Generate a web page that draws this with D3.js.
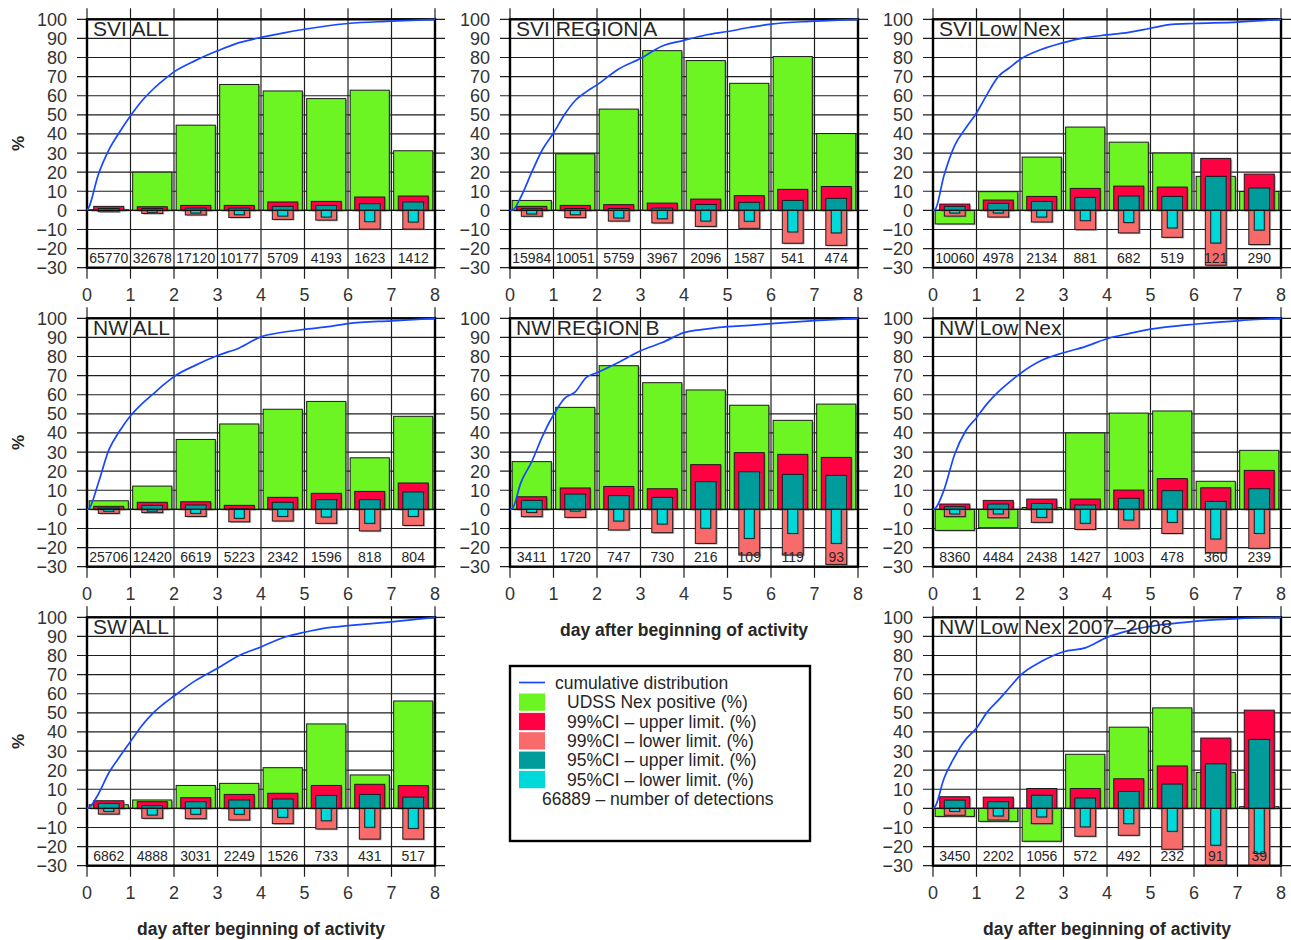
<!DOCTYPE html>
<html lang="en">
<head>
    <meta charset="UTF-8">
    <title>nex-positive</title>
    <style>
        body {
            margin: 0;
            background: #fff;
            font-family: "Liberation Sans", Arial, Helvetica, sans-serif;
        }
        svg text { fill: #262626; }
    </style>
    <script src="https://cdn.jsdelivr.net/npm/d3@7"></script>
</head>
<body>

<script>

    // ---- data ----
    let panelTitles = ["SVI ALL", "SVI REGION A", "SVI Low Nex", "NW ALL", "NW REGION B", "NW Low Nex", "SW ALL", "NW Low Nex 2007\u20132008"];
    let days = [0, 1, 2, 3, 4, 5, 6, 7];
    let xTicks = [0, 1, 2, 3, 4, 5, 6, 7, 8];
    let yTicks = [-30, -20, -10, 0, 10, 20, 30, 40, 50, 60, 70, 80, 90, 100];

    let nexPositive = [
        [0.3, 20, 44.6, 65.9, 62.5, 58.5, 62.9, 31.2],
        [5.2, 29.6, 53, 83.6, 78.4, 66.5, 80.5, 40.2],
        [-7.1, 9.8, 27.9, 43.6, 35.7, 30, 17.8, 9.9],
        [4.5, 12.2, 36.6, 44.7, 52.4, 56.5, 27, 48.7],
        [25, 53.4, 75.2, 66.3, 62.5, 54.5, 46.6, 55.1],
        [-11, -9.6, 1, 40, 50.4, 51.5, 14.7, 30.9],
        [1.9, 4.4, 12, 13.1, 21.3, 44.2, 17.5, 56.2],
        [-4.2, -6.8, -17.2, 28.3, 42.5, 52.6, 18.8, 0.9]
    ];
    let ci99Upper = [
        [2.1, 1.9, 2.6, 2.6, 4.4, 4.7, 7.0, 7.5],
        [2.1, 2.6, 3, 3.8, 5.9, 7.7, 11, 12.5],
        [3.3, 5.4, 7.3, 11.5, 12.7, 12.2, 27.2, 19],
        [1.6, 3.7, 4, 2.1, 6.3, 8.4, 9.4, 13.8],
        [6.6, 11.2, 12, 10.8, 23.4, 29.7, 28.8, 27.2],
        [2.8, 4.7, 5.4, 5.4, 10.1, 16.1, 11.3, 20.4],
        [4, 3.5, 5.6, 7.3, 7.9, 12, 12.6, 11.9],
        [6.1, 5.9, 10.4, 10.4, 15.5, 22.2, 36.8, 51.4]
    ];
    let ci99Lower = [
        [-0.7, -1.6, -2.4, -3.7, -4.7, -5.1, -9.8, -9.8],
        [-3.1, -3.8, -5.6, -6.6, -8.4, -9.4, -17.2, -18.3],
        [-3, -3.5, -6.1, -10.1, -11.8, -14.1, -28.7, -17.9],
        [-2.1, -1.7, -3.7, -6.5, -6.1, -7.3, -11.3, -8.4],
        [-3.8, -4.2, -10.8, -12.2, -17.8, -23.9, -23.9, -28.8],
        [-3.8, -4.4, -6.8, -10.5, -10.1, -12.6, -22.7, -20.4],
        [-3, -5.2, -5.4, -6.1, -8, -10.8, -16.1, -16.1],
        [-3.6, -6.1, -8, -14.6, -14.1, -21.4, -34, -34]
    ];
    let ci95Upper = [
        [1.0, 1.0, 1.2, 1.2, 2.1, 2.6, 3.5, 4.4],
        [0.9, 1, 1, 1.2, 3.1, 4.2, 5.2, 6.3],
        [2.1, 3.7, 4.7, 6.8, 7.5, 7.3, 17.8, 11.7],
        [0.7, 2.1, 2.3, 0.2, 3.7, 5.1, 5.1, 9.1],
        [4.7, 8, 7.2, 6.3, 14.5, 19.7, 18.3, 17.8],
        [1.4, 2.8, 3.1, 2.3, 5.8, 9.8, 4.2, 10.8],
        [2.6, 1.4, 3.5, 4.4, 4.9, 6.8, 7.3, 5.9],
        [4.3, 3.5, 6.9, 5.4, 8.9, 12.7, 23.3, 36.1]
    ];
    let ci95Lower = [
        [-0.2, -1.0, -1.4, -2.3, -3.0, -3.5, -5.9, -6.1],
        [-1.9, -2.3, -4, -4.4, -5.6, -5.7, -11.3, -11.8],
        [-1.4, -1.4, -3.5, -5.4, -6.4, -9.2, -17.1, -10.3],
        [-1, -0.9, -2.1, -4.7, -3.7, -4, -7.3, -3.7],
        [-1.6, -0.9, -6.1, -7.7, -9.9, -15.2, -12.6, -17.8],
        [-2.4, -2.4, -4.2, -7.3, -5.6, -6.8, -15.5, -12.6],
        [-1.6, -3.5, -3.1, -3.1, -4.7, -6.5, -9.9, -10.5],
        [-1.6, -4, -4.5, -9.7, -8, -12, -19.3, -23.6]
    ];
    let detections = [
        [65770, 32678, 17120, 10177, 5709, 4193, 1623, 1412],
        [15984, 10051, 5759, 3967, 2096, 1587, 541, 474],
        [10060, 4978, 2134, 881, 682, 519, 121, 290],
        [25706, 12420, 6619, 5223, 2342, 1596, 818, 804],
        [3411, 1720, 747, 730, 216, 109, 119, 93],
        [8360, 4484, 2438, 1427, 1003, 478, 360, 239],
        [6862, 4888, 3031, 2249, 1526, 733, 431, 517],
        [3450, 2202, 1056, 572, 492, 232, 91, 39]
    ];

    // cumulative distribution, sampled at cumDays
    let cumDays = [0, 0.05, 0.25, 0.5, 0.75, 1, 1.25, 1.5, 1.75, 2, 2.5, 3, 3.5, 4, 4.5, 5, 5.5, 6, 7, 8];
    let cumulative = [
        [0, 2, 18, 31.5, 41, 49.5, 57, 63, 68, 72.5, 78.5, 83.5, 87.8, 90.5, 92.8, 94.8, 96.5, 97.8, 99, 100],
        [0, 0, 7, 20, 32, 40.5, 50, 57.5, 62, 65.7, 74, 79.5, 86, 89, 91.8, 93.6, 95.7, 97.5, 99, 100],
        [0, 0.5, 18, 34, 43, 51, 61, 70, 74.5, 79, 84.3, 87.8, 90.4, 91.8, 93.2, 95.3, 97.3, 97.8, 98.5, 100],
        [0, 0.5, 13, 31, 41, 49, 55, 60, 65, 69.5, 75.5, 80.5, 84.5, 90.3, 92.7, 94.2, 95.5, 97.2, 98.7, 100],
        [0, 0.3, 14, 25, 38.5, 49.5, 58, 61.5, 69, 71.5, 77, 83, 87.3, 92.5, 94.3, 95.6, 96.3, 97.2, 98.8, 100],
        [0, 0.5, 10, 29, 41, 48, 55.5, 61.5, 66.5, 71, 78, 82, 85.2, 89.3, 92, 94.3, 95.8, 96.9, 98.7, 100],
        [0, 0.5, 7, 18.5, 27, 35, 43, 49.5, 54.5, 58.8, 67, 73.3, 80, 84.5, 89.3, 92.2, 94.5, 95.6, 97.6, 100],
        [0, 1, 15.5, 27, 36, 42, 50.5, 56.5, 63, 69.5, 77, 82, 84, 89.5, 93, 95.3, 96.7, 97.9, 99.3, 100]
    ];

    let legendLabels = ["UDSS Nex positive (%)", "99%CI \u2013 upper limit. (%)", "99%CI \u2013 lower limit. (%)",
        "95%CI \u2013 upper limit. (%)", "95%CI \u2013 lower limit. (%)"];

    // ---- layout / style ----
    let width = 1291, height = 940;
    let panelW = 348, panelH = 248.4;
    let colX = [87, 510, 933];
    let rowY = [19.3, 318.3, 617.3];
    let panelSlot = [[0, 0], [0, 1], [0, 2], [1, 0], [1, 1], [1, 2], [2, 0], [2, 2]];

    let colors = {
        nex: "#6cf523",
        up99: "#ff0042",
        lo99: "#f96b6b",
        up95: "#009c9c",
        lo95: "#00d9d9",
        cum: "#1747ff"
    };
    // bar widths in days
    let barW = {nex: 0.9, up99: 0.69, lo99: 0.48, up95: 0.48, lo95: 0.23};

    let svg = d3.select("body").append("svg")
        .attr("width", width)
        .attr("height", height);

    let defs = svg.append("defs");

    let x = d3.scaleLinear().domain([0, 8]).range([0, panelW]);
    let y = d3.scaleLinear().domain([-30, 100]).range([panelH, 0]);

    defs.append("clipPath").attr("id", "plot-clip")
        .append("rect")
        .attr("x", 0).attr("y", 0)
        .attr("width", panelW).attr("height", panelH);

    let fmtTick = function (v) {
        return v < 0 ? "\u2212" + Math.abs(v) : "" + v;
    }

    panelTitles.forEach(function (title, p) {
        let r = panelSlot[p][0], c = panelSlot[p][1];
        let g = svg.append("g").attr("transform", "translate(" + colX[c] + "," + rowY[r] + ")");

        // grid
        g.append("g").selectAll("line")
            .data(xTicks).enter().append("line")
            .attr("x1", d => x(d)).attr("x2", d => x(d))
            .attr("y1", -11).attr("y2", panelH + 11)
            .attr("stroke", "#1e1e1e").attr("stroke-width", 1.2);
        g.append("g").selectAll("line")
            .data(yTicks).enter().append("line")
            .attr("x1", -10).attr("x2", panelW + 10)
            .attr("y1", d => y(d)).attr("y2", d => y(d))
            .attr("stroke", "#1e1e1e").attr("stroke-width", 1.2);

        // bars
        let bars = g.append("g").attr("clip-path", "url(#plot-clip)");
        let series = [
            ["nex", nexPositive[p]],
            ["up99", ci99Upper[p]],
            ["lo99", ci99Lower[p]],
            ["up95", ci95Upper[p]],
            ["lo95", ci95Lower[p]]
        ];
        series.forEach(function (s) {
            let key = s[0], vals = s[1];
            let bx = d => x(d + 0.5 - barW[key] / 2);
            let bw = x(barW[key]) - x(0);
            let by = (d, i) => y(Math.max(0, vals[i]));
            let bh = (d, i) => Math.abs(y(vals[i]) - y(0));
            bars.append("g").selectAll("rect")
                .data(days).enter().append("rect")
                .attr("x", d => bx(d) + 1.5).attr("y", (d, i) => by(d, i) + 1.2)
                .attr("width", bw).attr("height", bh)
                .attr("fill", "#7a7a7a").attr("opacity", 0.6);
            bars.append("g").selectAll("rect")
                .data(days).enter().append("rect")
                .attr("x", bx).attr("y", by)
                .attr("width", bw).attr("height", bh)
                .attr("fill", colors[key])
                .attr("stroke", "#1a1a1a").attr("stroke-width", 1);
        });

        // zero line
        g.append("line")
            .attr("x1", 0).attr("x2", panelW)
            .attr("y1", y(0)).attr("y2", y(0))
            .attr("stroke", "#111").attr("stroke-width", 1.3);

        // frame
        g.append("rect")
            .attr("width", panelW).attr("height", panelH)
            .attr("fill", "none").attr("stroke", "#000").attr("stroke-width", 2.4);

        // number of detections
        g.append("g").selectAll("text")
            .data(days).enter().append("text")
            .attr("x", d => x(d + 0.5)).attr("y", y(-25))
            .attr("dy", "0.36em")
            .attr("text-anchor", "middle")
            .style("font-size", "14px")
            .text((d, i) => detections[p][i]);

        // cumulative distribution
        let line = d3.line()
            .x((d, i) => x(cumDays[i]))
            .y(d => y(d))
            .curve(d3.curveMonotoneX);
        g.append("path")
            .datum(cumulative[p])
            .attr("d", line)
            .attr("fill", "none")
            .attr("stroke", colors.cum)
            .attr("stroke-width", 1.7);

        // title
        g.append("text")
            .attr("x", 6).attr("y", 16.5)
            .style("font-size", "21px")
            .text(title);

        // tick labels
        g.append("g").selectAll("text")
            .data(yTicks).enter().append("text")
            .attr("x", -20).attr("y", d => y(d))
            .attr("dy", "0.36em")
            .attr("text-anchor", "end")
            .style("font-size", "18px")
            .style("fill", "#333")
            .text(fmtTick);
        g.append("g").selectAll("text")
            .data(xTicks).enter().append("text")
            .attr("x", d => x(d)).attr("y", panelH + 27)
            .attr("dy", "0.36em")
            .attr("text-anchor", "middle")
            .style("font-size", "18px")
            .style("fill", "#333")
            .text(d => d);

        if (c === 0) {
            g.append("text")
                .attr("transform", "translate(" + (18 - colX[0]) + "," + (panelH / 2) + ") rotate(-90)")
                .attr("text-anchor", "middle")
                .attr("dy", "0.36em")
                .style("font-size", "17px")
                .style("font-weight", "bold")
                .text("%");
        }
    });

    // x axis titles
    let xTitles = [[colX[1] + panelW / 2, 636], [colX[0] + panelW / 2, 935], [colX[2] + panelW / 2, 935]];
    svg.append("g").selectAll("text")
        .data(xTitles).enter().append("text")
        .attr("x", d => d[0]).attr("y", d => d[1])
        .attr("text-anchor", "middle")
        .style("font-size", "17.5px")
        .style("font-weight", "bold")
        .text("day after beginning of activity");

    // legend
    let legend = svg.append("g").attr("transform", "translate(510,666)");
    legend.append("rect")
        .attr("width", 300).attr("height", 175)
        .attr("fill", "#fff").attr("stroke", "#000").attr("stroke-width", 2.4);
    legend.append("line")
        .attr("x1", 9).attr("x2", 35)
        .attr("y1", 16.5).attr("y2", 16.5)
        .attr("stroke", colors.cum).attr("stroke-width", 1.7);
    legend.append("text")
        .attr("x", 45).attr("y", 16.5).attr("dy", "0.36em")
        .style("font-size", "17.5px")
        .text("cumulative distribution");
    let swatchKeys = ["nex", "up99", "lo99", "up95", "lo95"];
    legend.append("g").selectAll("rect")
        .data(swatchKeys).enter().append("rect")
        .attr("x", 9).attr("y", (d, i) => 27.5 + i * 19.35)
        .attr("width", 26).attr("height", 17.3)
        .attr("fill", d => colors[d]);
    legend.append("g").selectAll("text")
        .data(legendLabels).enter().append("text")
        .attr("x", 57).attr("y", (d, i) => 36 + i * 19.35)
        .attr("dy", "0.36em")
        .style("font-size", "17.5px")
        .text(d => d);
    legend.append("text")
        .attr("x", 32).attr("y", 132.5).attr("dy", "0.36em")
        .style("font-size", "17.5px")
        .text("66889 \u2013 number of detections");

</script>

</body>
</html>
